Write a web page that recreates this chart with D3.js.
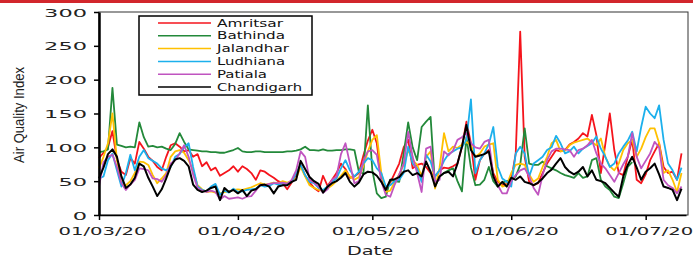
<!DOCTYPE html>
<html>
<head>
<meta charset="utf-8">
<script src="https://cdn.jsdelivr.net/npm/d3@7"></script>
<style>
body { margin: 0; background: #fff; }
svg { display: block; }
</style>
</head>
<body>
<div id="chart"></div>
<script>
// daily AQI, first value is 01/03/20
var startDate = new Date(2020, 2, 1);
var tickDates = [new Date(2020, 2, 1), new Date(2020, 3, 1), new Date(2020, 4, 1), new Date(2020, 5, 1), new Date(2020, 6, 1)];
var tickLabels = ["01/03/20", "01/04/20", "01/05/20", "01/06/20", "01/07/20"];
var yTicks = [0, 50, 100, 150, 200, 250, 300];
var cities = ["Amritsar", "Bathinda", "Jalandhar", "Ludhiana", "Patiala", "Chandigarh"];
var colors = ["#f5141c", "#23893a", "#ffc000", "#1cb0ec", "#c054c0", "#000000"];

var amritsar = [
  84, 92, 100, 124, 82, 64, 59, 84, 76, 108,
  98, 86, 80, 71, 66, 86, 103, 106, 101, 94,
  96, 86, 90, 72, 78, 66, 70, 58, 62, 66,
  72, 64, 72, 68, 62, 52, 66, 64, 59, 55,
  50, 47, 38, 48, 60, 74, 58, 48, 40, 35,
  58, 43, 52, 62, 76, 68, 55, 57, 62, 88,
  110, 126, 106, 54, 40, 48, 62, 76, 100, 111,
  69, 74, 76, 71, 62, 57, 66, 70, 69, 72,
  76, 101, 138, 106, 52, 81, 91, 96, 62, 49,
  44, 46, 52, 91, 271, 86, 49, 44, 47, 62,
  76, 86, 96, 94, 96, 104, 108, 113, 121, 116,
  148, 118, 62, 105, 150, 96, 62, 59, 86, 111,
  52, 47, 60, 81, 94, 106, 71, 62, 64, 52, 91];
var bathinda = [
  93, 94, 97, 188, 104, 102, 100, 101, 100, 137,
  115, 101, 102, 100, 101, 98, 96, 105, 121, 108,
  97, 96, 95, 94, 94, 93, 93, 92, 92, 94,
  96, 99, 94, 93, 93, 94, 94, 93, 93, 93,
  93, 93, 94, 94, 95, 97, 101, 96, 96, 95,
  97, 95, 95, 96, 96, 97, 97, 96, 64, 61,
  162, 66, 32, 25, 27, 52, 50, 49, 91, 137,
  100, 81, 130, 138, 145, 42, 57, 62, 66, 69,
  50, 35, 115, 70, 44, 45, 52, 71, 50, 42,
  48, 50, 52, 57, 74, 128, 76, 74, 74, 79,
  72, 69, 66, 62, 59, 57, 55, 62, 55, 57,
  81, 84, 52, 42, 37, 27, 25, 47, 71, 78];
var jalandhar = [
  69, 86, 106, 150, 81, 47, 44, 50, 62, 79,
  78, 74, 59, 47, 54, 62, 86, 94, 96, 92,
  81, 66, 44, 38, 34, 35, 33, 32, 34, 35,
  37, 38, 37, 39, 41, 44, 47, 45, 46, 48,
  47, 50, 48, 50, 54, 71, 57, 44, 40, 37,
  36, 39, 44, 50, 58, 66, 57, 52, 56, 72,
  94, 111, 118, 62, 34, 36, 49, 60, 74, 96,
  81, 74, 57, 86, 94, 39, 70, 121, 94, 101,
  99, 104, 108, 103, 86, 91, 101, 104, 106, 52,
  42, 44, 62, 74, 76, 74, 60, 49, 54, 71,
  86, 106, 111, 94, 95, 103, 107, 109, 111, 113,
  108, 103, 113, 86, 72, 66, 76, 96, 106, 111,
  86, 98, 115, 128, 128, 106, 62, 66, 52, 34, 62];
var ludhiana = [
  54, 57, 81, 91, 66, 42, 62, 89, 66, 86,
  96, 84, 80, 76, 69, 66, 71, 86, 90, 100,
  106, 71, 42, 37, 35, 42, 46, 30, 36, 33,
  39, 34, 35, 37, 38, 39, 44, 42, 43, 47,
  45, 47, 46, 49, 62, 74, 59, 49, 47, 40,
  37, 42, 49, 54, 69, 81, 66, 57, 64, 76,
  84, 81, 69, 62, 42, 44, 50, 52, 62, 101,
  76, 69, 49, 89, 79, 57, 66, 80, 90, 94,
  98, 100, 111, 171, 62, 81, 91, 105, 130, 71,
  54, 49, 42, 91, 101, 91, 57, 76, 81, 86,
  96, 100, 117, 106, 91, 94, 101, 91, 98, 102,
  106, 116, 98, 86, 71, 76, 91, 101, 110, 123,
  94, 130, 160, 150, 143, 162, 111, 76, 66, 52, 70];
var patiala = [
  42, 78, 86, 89, 71, 47, 37, 45, 52, 69,
  68, 66, 54, 53, 49, 59, 76, 81, 91, 103,
  86, 60, 40, 36, 34, 36, 34, 23, 28, 24,
  25, 26, 24, 27, 28, 36, 45, 44, 46, 47,
  47, 48, 46, 52, 66, 94, 86, 52, 48, 42,
  33, 38, 52, 57, 90, 106, 76, 47, 50, 80,
  94, 96, 89, 50, 30, 27, 45, 60, 76, 123,
  86, 62, 34, 98, 101, 49, 52, 94, 88, 95,
  111, 115, 121, 106, 100, 98, 108, 111, 57, 44,
  32, 32, 50, 59, 66, 69, 57, 40, 30, 59,
  81, 94, 98, 98, 97, 96, 86, 96, 98, 103,
  111, 91, 76, 69, 59, 49, 62, 75, 86, 121,
  86, 69, 80, 91, 108, 100, 52, 44, 40, 32, 42];
var chandigarh = [
  54, 70, 90, 97, 86, 57, 40, 45, 55, 76,
  72, 55, 42, 28, 38, 54, 72, 82, 84, 80,
  72, 45, 37, 34, 36, 40, 42, 22, 40, 34,
  37, 32, 37, 28, 36, 38, 44, 45, 42, 32,
  42, 44, 44, 49, 52, 80, 68, 56, 50, 46,
  33, 42, 47, 50, 55, 62, 49, 42, 48, 60,
  64, 63, 58, 49, 37, 52, 53, 56, 64, 66,
  59, 62, 57, 79, 64, 42, 57, 62, 64, 57,
  76, 101, 133, 96, 86, 88, 90, 94, 57, 42,
  49, 42, 55, 52, 57, 49, 47, 44, 48, 54,
  62, 67, 76, 84, 71, 64, 60, 64, 71, 57,
  66, 52, 50, 47, 40, 33, 27, 57, 74, 86,
  70, 52, 64, 69, 76, 60, 42, 40, 37, 22, 39];

var seriesValues = [amritsar, bathinda, jalandhar, ludhiana, patiala, chandigarh];

var width = 693, height = 257;
var plotLeft = 99, plotRight = 688, plotTop = 12, plotBottom = 215;

var svg = d3.select('#chart').append('svg')
    .attr('width', width)
    .attr('height', height);

// red strip on top of the page
svg.append('rect')
    .attr('x', 0).attr('y', 0)
    .attr('width', width).attr('height', 3)
    .attr('fill', '#d2262c');

var x = d3.scaleTime()
    .domain([startDate, new Date(2020, 6, 10)])
    .range([plotLeft, 686]);

var y = d3.scaleLinear()
    .domain([0, 300])
    .range([plotBottom, plotTop]);

// frame
svg.append('rect')
    .attr('x', plotLeft).attr('y', plotTop)
    .attr('width', plotRight - plotLeft).attr('height', plotBottom - plotTop)
    .attr('fill', 'none')
    .attr('stroke', '#333')
    .attr('stroke-width', 1);

var line = d3.line()
    .x(function(d, i) { return x(d3.timeDay.offset(startDate, i)); })
    .y(function(d) { return y(d); });

seriesValues.forEach(function(vals, k) {
    svg.append('path')
        .datum(vals)
        .attr('d', line)
        .attr('fill', 'none')
        .attr('stroke', colors[k])
        .attr('stroke-width', k == 5 ? 2 : 1.8)
        .attr('stroke-linejoin', 'round');
});

var xAxis = svg.append('g')
    .attr('transform', `translate(0,${plotBottom})`)
    .call(d3.axisBottom(x)
        .tickValues(tickDates)
        .tickFormat(function(d, i) { return tickLabels[i]; })
        .tickSize(5)
        .tickSizeOuter(0));
xAxis.select('.domain').attr('stroke', '#000').attr('stroke-width', 1.5);
xAxis.selectAll('.tick line').attr('stroke', '#000').attr('stroke-width', 1.5);
xAxis.selectAll('.tick text')
    .attr('y', 20)
    .attr('dy', 0)
    .attr('x', 3)
    .attr('font-family', 'DejaVu Sans')
    .attr('font-size', 11)
    .attr('fill', '#222')
    .attr('textLength', 88)
    .attr('lengthAdjust', 'spacingAndGlyphs');

var yAxis = svg.append('g')
    .attr('transform', `translate(${plotLeft},0)`)
    .call(d3.axisLeft(y)
        .tickValues(yTicks)
        .tickSize(5)
        .tickSizeOuter(0));
yAxis.select('.domain').attr('stroke', '#000').attr('stroke-width', 2.5);
yAxis.selectAll('.tick line').attr('stroke', '#000').attr('stroke-width', 1.5);
yAxis.selectAll('.tick text')
    .attr('x', -12)
    .attr('dy', 4)
    .attr('font-family', 'DejaVu Sans')
    .attr('font-size', 11)
    .attr('fill', '#222')
    .attr('textLength', function(d) { return String(d).length * 14.3; })
    .attr('lengthAdjust', 'spacingAndGlyphs');

// axis titles
svg.append('text')
    .attr('x', 370).attr('y', 255)
    .attr('text-anchor', 'middle')
    .attr('font-family', 'DejaVu Sans')
    .attr('font-size', 12.5)
    .attr('fill', '#222')
    .attr('textLength', 46)
    .attr('lengthAdjust', 'spacingAndGlyphs')
    .text('Date');

svg.append('text')
    .attr('transform', 'translate(24,115) rotate(-90)')
    .attr('text-anchor', 'middle')
    .attr('font-family', "'Liberation Sans Narrow', 'Liberation Sans', sans-serif")
    .attr('font-size', 15)
    .attr('fill', '#222')
    .attr('textLength', 96)
    .attr('lengthAdjust', 'spacingAndGlyphs')
    .text('Air Quality Index');

// legend
var legendWidths = [66, 68, 72, 68, 50, 85];
var legend = svg.append('g');
legend.append('rect')
    .attr('x', 139).attr('y', 16)
    .attr('width', 173).attr('height', 79)
    .attr('fill', '#fff')
    .attr('stroke', '#000')
    .attr('stroke-width', 1.5);

cities.forEach(function(name, k) {
    var ly = 23 + k * 12.8;
    legend.append('line')
        .attr('x1', 158).attr('x2', 211)
        .attr('y1', ly).attr('y2', ly)
        .attr('stroke', colors[k])
        .attr('stroke-width', 1.5);
    legend.append('text')
        .attr('x', 217).attr('y', ly + 3.5)
        .attr('font-family', 'DejaVu Sans')
        .attr('font-size', 10)
        .attr('fill', '#111')
        .attr('textLength', legendWidths[k])
        .attr('lengthAdjust', 'spacingAndGlyphs')
        .text(name);
});
</script>
</body>
</html>
